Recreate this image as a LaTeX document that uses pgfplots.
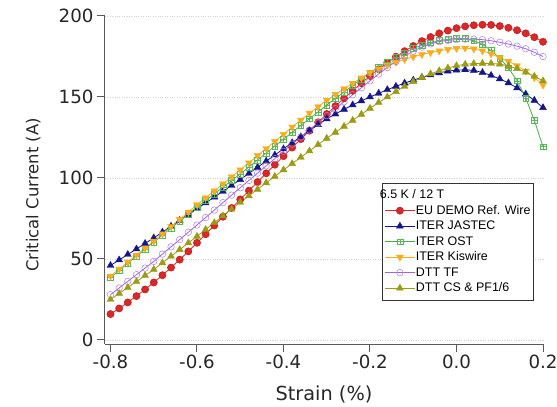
\documentclass[border=0pt]{standalone}
\usepackage{pgfplots}
\pgfplotsset{compat=1.18}
\usepackage{fontspec}
\setmainfont{DejaVu Sans}
\newfontfamily\legfont{Liberation Sans}
\definecolor{eured}{RGB}{222,38,38}
\definecolor{jblue}{RGB}{20,22,140}
\definecolor{ostgreen}{RGB}{70,175,70}
\definecolor{kisy}{RGB}{248,172,30}
\definecolor{tfpur}{RGB}{160,100,225}
\definecolor{csol}{RGB}{155,155,20}
\pgfdeclareplotmark{squareplus}{%
  \pgfpathrectangle{\pgfpoint{-\pgfplotmarksize}{-\pgfplotmarksize}}{\pgfpoint{2\pgfplotmarksize}{2\pgfplotmarksize}}%
  \pgfpathmoveto{\pgfpoint{-\pgfplotmarksize}{0pt}}\pgfpathlineto{\pgfpoint{\pgfplotmarksize}{0pt}}%
  \pgfpathmoveto{\pgfpoint{0pt}{-\pgfplotmarksize}}\pgfpathlineto{\pgfpoint{0pt}{\pgfplotmarksize}}%
  \pgfusepathqstroke}
\begin{document}
\begin{tikzpicture}
\path[use as bounding box] (-105bp,-63bp) rectangle (452bp,344bp);
\begin{axis}[
  at={(0,0)}, anchor=south west,
  scale only axis, width=438bp, height=328bp,
  xmin=-0.8127, xmax=0.2, ymin=-2.47, ymax=200,
  axis x line=bottom, axis y line=left,
  axis line style={-, draw=black!65, line width=1bp},
  tick align=outside, major tick length=8bp,
  tick style={black!65, line width=1bp},
  xtick={-0.8,-0.6,-0.4,-0.2,0,0.2},
  xticklabels={-0.8,-0.6,-0.4,-0.2,0.0,0.2},
  ytick={0,50,100,150,200},
  yticklabels={0,50,100,150,200},
  minor tick num=0,
  ymajorgrids, grid style={dotted, black!18, line width=0.6bp},
  ticklabel style={font=\fontsize{18.3}{18.3}\selectfont, text=black!85},
  xticklabel style={yshift=1bp},
  xlabel={Strain (\%)}, ylabel={Critical Current (A)},
  xlabel style={font=\fontsize{19.4}{19.4}\selectfont, text=black!85, at={(axis description cs:0.5,-0.155)}, anchor=center},
  ylabel style={font=\fontsize{16.5}{16.5}\selectfont, text=black!85, at={(axis description cs:-0.164,0.454)}, anchor=center},
  legend style={at={(axis cs:-0.173,97)}, anchor=north west, draw=black!80, line width=0.7bp,
    font=\legfont\fontsize{12.5}{14}\selectfont, inner xsep=2.5bp, inner ysep=5bp, fill=white,
    nodes={inner sep=0.6bp, text height=9.7bp, text depth=3bp}, row sep=1.6bp},
  legend cell align=left,
  legend image code/.code={\draw[mark repeat=2,mark phase=2] plot coordinates {(0bp,0bp) (15bp,0bp) (30bp,0bp)};},
  every axis plot/.append style={line width=0.8bp},
]
\addlegendimage{empty legend}
\addlegendentry{\makebox[0pt][l]{\hspace*{-36bp}6.5 K / 12 T}}
\addplot[color=eured, mark=*, mark size=3.6bp, mark options={fill=eured, draw=eured!80!black, line width=0.5bp}] coordinates {
(-0.80,16.0) (-0.78,19.5) (-0.76,23.2) (-0.74,27.1) (-0.72,31.2) (-0.70,35.5)
(-0.68,40.0) (-0.66,44.7) (-0.64,49.6) (-0.62,54.7) (-0.60,60.0)
(-0.58,65.3) (-0.56,70.7) (-0.54,76.1) (-0.52,81.5) (-0.50,86.8)
(-0.48,92.2) (-0.46,97.5) (-0.44,102.9) (-0.42,108.2) (-0.40,113.5)
(-0.38,118.8) (-0.36,124.0) (-0.34,129.2) (-0.32,134.4) (-0.30,139.5)
(-0.28,144.4) (-0.26,149.2) (-0.24,153.9) (-0.22,158.5) (-0.20,163.0)
(-0.18,167.2) (-0.16,171.2) (-0.14,174.9) (-0.12,178.3) (-0.10,181.5)
(-0.08,184.5) (-0.06,187.0) (-0.04,189.3) (-0.02,191.0) (0.00,192.5)
(0.02,193.6) (0.04,194.3) (0.06,194.6) (0.08,194.5) (0.10,193.8)
(0.12,192.7) (0.14,191.2) (0.16,189.3) (0.18,186.9) (0.20,184.1)};
\addlegendentry{EU DEMO Ref. Wire}
\addplot[color=jblue, mark=triangle*, mark size=4bp, mark options={fill=jblue, line width=0.4bp}] coordinates {
(-0.80,46.0) (-0.78,49.4) (-0.76,52.8) (-0.74,56.2) (-0.72,59.6) (-0.70,63.0)
(-0.68,66.6) (-0.66,70.2) (-0.64,73.8) (-0.62,77.4) (-0.60,81.0)
(-0.58,84.6) (-0.56,88.2) (-0.54,91.8) (-0.52,95.4) (-0.50,99.0)
(-0.48,102.8) (-0.46,106.6) (-0.44,110.4) (-0.42,114.2) (-0.40,118.0)
(-0.38,121.8) (-0.36,125.5) (-0.34,129.2) (-0.32,132.9) (-0.30,136.5)
(-0.28,139.5) (-0.26,142.4) (-0.24,145.1) (-0.22,147.6) (-0.20,150.0)
(-0.18,152.3) (-0.16,154.5) (-0.14,156.6) (-0.12,158.6) (-0.10,160.4)
(-0.08,162.1) (-0.06,163.6) (-0.04,164.9) (-0.02,166.0) (0.00,166.6)
(0.02,166.8) (0.04,166.4) (0.06,165.1) (0.08,163.3) (0.10,161.2)
(0.12,158.7) (0.14,155.6) (0.16,151.8) (0.18,147.9) (0.20,143.4)};
\addlegendentry{ITER JASTEC}
\addplot[color=ostgreen, mark=squareplus, mark size=2.9bp, mark options={draw=ostgreen!90!white, line width=0.5bp}] coordinates {
(-0.80,38.5) (-0.78,42.9) (-0.76,47.3) (-0.74,51.7) (-0.72,56.1) (-0.70,60.5)
(-0.68,64.8) (-0.66,69.1) (-0.64,73.4) (-0.62,77.7) (-0.60,82.0)
(-0.58,86.1) (-0.56,90.2) (-0.54,94.3) (-0.52,98.4) (-0.50,102.5)
(-0.48,106.8) (-0.46,111.1) (-0.44,115.4) (-0.42,119.7) (-0.40,124.0)
(-0.38,128.2) (-0.36,132.4) (-0.34,136.6) (-0.32,140.8) (-0.30,145.0)
(-0.28,149.1) (-0.26,153.1) (-0.24,157.1) (-0.22,161.1) (-0.20,165.0)
(-0.18,168.4) (-0.16,171.6) (-0.14,174.5) (-0.12,177.3) (-0.10,180.0)
(-0.08,182.0) (-0.06,183.5) (-0.04,184.8) (-0.02,185.7) (0.00,186.1)
(0.02,186.1) (0.04,184.7) (0.06,182.5) (0.08,178.7) (0.10,174.0)
(0.12,168.0) (0.14,160.0) (0.16,149.4) (0.18,135.6) (0.20,119.3)};
\addlegendentry{ITER OST}
\addplot[color=kisy, mark=triangle*, mark size=4bp, mark options={fill=kisy, rotate=180, line width=0.4bp}] coordinates {
(-0.80,39.5) (-0.78,43.8) (-0.76,48.1) (-0.74,52.4) (-0.72,56.7) (-0.70,61.0)
(-0.68,65.5) (-0.66,70.0) (-0.64,74.5) (-0.62,79.0) (-0.60,83.5)
(-0.58,87.8) (-0.56,92.1) (-0.54,96.4) (-0.52,100.7) (-0.50,105.0)
(-0.48,109.4) (-0.46,113.8) (-0.44,118.2) (-0.42,122.6) (-0.40,127.0)
(-0.38,131.5) (-0.36,135.8) (-0.34,140.0) (-0.32,144.0) (-0.30,148.0)
(-0.28,151.6) (-0.26,155.1) (-0.24,158.5) (-0.22,161.8) (-0.20,165.0)
(-0.18,167.4) (-0.16,169.6) (-0.14,171.5) (-0.12,173.2) (-0.10,174.8)
(-0.08,176.2) (-0.06,177.4) (-0.04,178.5) (-0.02,179.4) (0.00,180.0)
(0.02,180.2) (0.04,179.7) (0.06,178.5) (0.08,176.6) (0.10,174.3)
(0.12,172.0) (0.14,169.3) (0.16,166.0) (0.18,162.0) (0.20,157.4)};
\addlegendentry{ITER Kiswire}
\addplot[color=tfpur, mark=o, mark size=3.3bp, mark options={draw=tfpur!85!white, line width=0.5bp}] coordinates {
(-0.80,28.0) (-0.78,32.1) (-0.76,36.2) (-0.74,40.3) (-0.72,44.4) (-0.70,48.5)
(-0.68,53.0) (-0.66,57.5) (-0.64,62.0) (-0.62,66.5) (-0.60,71.0)
(-0.58,75.6) (-0.56,80.2) (-0.54,84.8) (-0.52,89.4) (-0.50,94.0)
(-0.48,98.5) (-0.46,103.0) (-0.44,107.5) (-0.42,112.0) (-0.40,116.5)
(-0.38,120.9) (-0.36,125.3) (-0.34,129.7) (-0.32,134.1) (-0.30,138.5)
(-0.28,142.8) (-0.26,147.1) (-0.24,151.4) (-0.22,155.7) (-0.20,160.0)
(-0.18,164.2) (-0.16,168.2) (-0.14,171.9) (-0.12,175.3) (-0.10,178.3)
(-0.08,180.8) (-0.06,182.8) (-0.04,184.2) (-0.02,185.0) (0.00,185.4)
(0.02,185.7) (0.04,185.7) (0.06,185.4) (0.08,184.7) (0.10,183.8)
(0.12,182.7) (0.14,181.4) (0.16,179.8) (0.18,177.6) (0.20,175.0)};
\addlegendentry{DTT TF}
\addplot[color=csol, mark=triangle*, mark size=4bp, mark options={fill=csol, line width=0.4bp}] coordinates {
(-0.80,25.0) (-0.78,28.7) (-0.76,32.4) (-0.74,36.1) (-0.72,39.8) (-0.70,43.5)
(-0.68,47.6) (-0.66,51.7) (-0.64,55.8) (-0.62,59.9) (-0.60,64.0)
(-0.58,68.2) (-0.56,72.4) (-0.54,76.6) (-0.52,80.8) (-0.50,85.0)
(-0.48,89.0) (-0.46,93.0) (-0.44,97.0) (-0.42,101.0) (-0.40,105.0)
(-0.38,108.9) (-0.36,112.8) (-0.34,116.7) (-0.32,120.6) (-0.30,124.5)
(-0.28,128.2) (-0.26,131.9) (-0.24,135.6) (-0.22,139.3) (-0.20,143.0)
(-0.18,146.6) (-0.16,150.0) (-0.14,153.3) (-0.12,156.5) (-0.10,159.5)
(-0.08,162.0) (-0.06,164.3) (-0.04,166.2) (-0.02,167.9) (0.00,169.3)
(0.02,170.2) (0.04,170.6) (0.06,170.8) (0.08,170.7) (0.10,170.3)
(0.12,169.2) (0.14,167.5) (0.16,165.3) (0.18,162.8) (0.20,160.0)};
\addlegendentry{DTT CS \& PF1/6}
\end{axis}
\end{tikzpicture}
\end{document}
